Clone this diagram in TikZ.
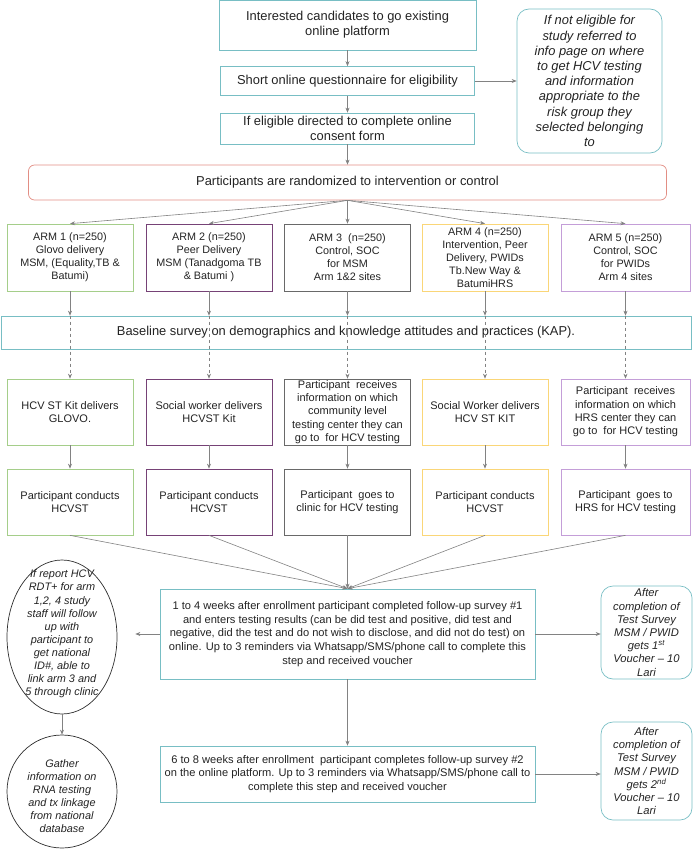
\documentclass[tikz,border=0pt]{standalone}
\usepackage{fontspec}
\setmainfont{Liberation Sans}
\usepackage{xcolor}
\usepackage{tikz}
\usetikzlibrary{arrows.meta, positioning, shapes.geometric}

\definecolor{boxteal}{RGB}{120,190,196}
\definecolor{randsalmon}{RGB}{226,142,132}
\definecolor{armgreen}{RGB}{165,206,138}
\definecolor{armpurple}{RGB}{118,66,118}
\definecolor{armgray}{RGB}{105,105,105}
\definecolor{armyellow}{RGB}{250,214,120}
\definecolor{armlilac}{RGB}{196,158,216}
\definecolor{ovalgray}{RGB}{45,45,45}
\definecolor{arrowgray}{RGB}{130,130,130}
\definecolor{txtdark}{RGB}{35,35,35}

\begin{document}
\begin{tikzpicture}[x=1pt, y=-1pt]
    % Block styles
    \tikzstyle{block} = [rectangle, draw=boxteal, line width=0.7pt, text=txtdark, align=center, inner sep=1pt, font=\fontsize{12.9}{15}\selectfont]
    \tikzstyle{armbox} = [block, minimum width=126pt, minimum height=67pt, font=\fontsize{10.8}{13}\selectfont]
    \tikzstyle{stepbox} = [armbox, minimum height=66pt, font=\fontsize{11}{13.3}\selectfont]
    \tikzstyle{note} = [block, rounded corners=12pt, inner sep=0pt, font=\itshape\fontsize{11.2}{13.2}\selectfont]
    \tikzstyle{oval} = [ellipse, draw=ovalgray, line width=0.7pt, inner sep=0pt]
    \tikzstyle{ovaltext} = [align=center, text=txtdark, inner sep=0pt, font=\itshape\fontsize{10.9}{13.1}\selectfont]
    \tikzstyle{arrow} = [draw=arrowgray, line width=0.6pt, -{Stealth[length=5pt,width=4pt]}]
    \tikzstyle{dasharrow} = [arrow, dashed]

    \useasboundingbox (0,0) rectangle (693,850);

    % Enrollment
    \node[block, minimum width=257pt, minimum height=50pt] (interest) at (347.5,25) {Interested candidates to go existing\\online platform};
    \node[block, minimum width=254pt, minimum height=29pt] (quest) at (347.5,81) {Short online questionnaire for eligibility};
    \node[block, minimum width=254pt, minimum height=31pt] (consent) at (347.5,128.5) {If eligible directed to complete online\\consent form};
    \node[note, minimum width=145pt, minimum height=144pt, font=\itshape\fontsize{12.9}{15.2}\selectfont] (noteligible) at (589.5,81) {If not eligible for\\study referred to\\info page on where\\to get HCV testing\\and information\\appropriate to the\\risk group they\\selected belonging\\to};
    \node[block, draw=randsalmon, rounded corners=6pt, minimum width=638pt, minimum height=35pt] (random) at (347.5,182.5) {Participants are randomized to intervention or control};

    % Arms
    \node[armbox, draw=armgreen] (arm1) at (70,257.5) {ARM 1 (n=250)\\Glovo delivery\\MSM, (Equality,TB \&\\Batumi)};
    \node[armbox, draw=armpurple] (arm2) at (209,257.5) {ARM 2 (n=250)\\Peer Delivery\\MSM (Tanadgoma TB\\\& Batumi )};
    \node[armbox, draw=armgray] (arm3) at (347.5,257.5) {ARM 3\ \ (n=250)\\Control, SOC\\for MSM\\Arm 1\&2 sites};
    \node[armbox, draw=armyellow] (arm4) at (485,257.5) {ARM 4 (n=250)\\Intervention, Peer\\Delivery, PWIDs\\Tb.New Way \&\\BatumiHRS};
    \node[armbox, draw=armlilac, minimum width=129pt] (arm5) at (625.5,257.5) {ARM 5 (n=250)\\Control, SOC\\for PWIDs\\Arm 4 sites};

    \node[block, minimum width=690pt, minimum height=33pt] (baseline) at (346,332.5) {Baseline survey on demographics and knowledge attitudes and practices (KAP).};

    % Delivery of test
    \node[stepbox, draw=armgreen] (deliver1) at (70,412) {HCV ST Kit delivers\\GLOVO.};
    \node[stepbox, draw=armpurple] (deliver2) at (209,412) {Social worker delivers\\HCVST Kit};
    \node[stepbox, draw=armgray] (deliver3) at (347.5,412) {Participant\ \ receives\\information on which\\community level\\testing center they can\\go to\ \ for HCV testing};
    \node[stepbox, draw=armyellow] (deliver4) at (485,412) {Social Worker delivers\\HCV ST KIT};
    \node[stepbox, draw=armlilac, minimum width=129pt] (deliver5) at (625.5,412) {Participant\ \ receives\\information on which\\HRS center they can\\go to\ \ for HCV testing};

    % Testing
    \node[stepbox, draw=armgreen] (test1) at (70,502) {Participant conducts\\HCVST};
    \node[stepbox, draw=armpurple] (test2) at (209,502) {Participant conducts\\HCVST};
    \node[stepbox, draw=armgray] (test3) at (347.5,502) {Participant\ \ goes to\\clinic for HCV testing};
    \node[stepbox, draw=armyellow] (test4) at (485,502) {Participant conducts\\HCVST};
    \node[stepbox, draw=armlilac, minimum width=129pt] (test5) at (625.5,502) {Participant\ \ goes to\\HRS for HCV testing};

    % Follow-up
    \node[block, minimum width=375pt, minimum height=90pt, font=\fontsize{11.1}{13.8}\selectfont] (survey1) at (347.5,634) {1 to 4 weeks after enrollment participant completed follow-up survey \#1\\and enters testing results (can be did test and positive, did test and\\negative, did the test and do not wish to disclose, and did not do test) on\\online. Up to 3 reminders via Whatsapp/SMS/phone call to complete this\\step and received voucher};
    \node[block, minimum width=375pt, minimum height=56pt, font=\fontsize{11.1}{13.8}\selectfont] (survey2) at (347.5,774) {6 to 8 weeks after enrollment\ \ participant completes follow-up survey \#2\\on the online platform. Up to 3 reminders via Whatsapp/SMS/phone call to\\complete this step and received voucher};
    \node[note, minimum width=91pt, minimum height=93pt] (voucher1) at (646.5,632.5) {After\\completion of\\Test Survey\\MSM / PWID\\gets 1\textsuperscript{st}\\Voucher -- 10\\Lari};
    \node[note, minimum width=91pt, minimum height=98pt] (voucher2) at (646.5,771) {After\\completion of\\Test Survey\\MSM / PWID\\gets 2\textsuperscript{nd}\\Voucher -- 10\\Lari};

    % Linkage
    \node[oval, minimum width=110pt, minimum height=154pt] (linkage) at (62,637) {};
    \node[ovaltext] (linkagetext) at (62,634) {If report HCV\\RDT+ for arm\\1,2, 4 study\\staff will follow\\up with\\participant to\\get national\\ID\#, able to\\link arm 3 and\\5 through clinic};
    \node[oval, minimum width=110pt, minimum height=113pt] (database) at (62,791.5) {};
    \node[ovaltext] (databasetext) at (62,796) {Gather\\information on\\RNA testing\\and tx linkage\\from national\\database};

    % Connections
    \draw[arrow] (interest) -- (quest);
    \draw[arrow] (quest) -- (consent);
    \draw[arrow] (consent) -- (random);
    \draw[arrow] (quest) -- (noteligible);
    \draw[arrow] (random.south) -- (arm1.north);
    \draw[arrow] (random.south) -- (arm2.north);
    \draw[arrow] (random.south) -- (arm3.north);
    \draw[arrow] (random.south) -- (arm4.north);
    \draw[arrow] (random.south) -- (arm5.north);

    \coordinate (kap1) at (arm1.south |- baseline.north);
    \coordinate (kap2) at (arm2.south |- baseline.north);
    \coordinate (kap3) at (arm3.south |- baseline.north);
    \coordinate (kap4) at (arm4.south |- baseline.north);
    \coordinate (kap5) at (arm5.south |- baseline.north);
    \draw[arrow] (arm1) -- (kap1);
    \draw[arrow] (arm2) -- (kap2);
    \draw[arrow] (arm3) -- (kap3);
    \draw[arrow] (arm4) -- (kap4);
    \draw[arrow] (arm5) -- (kap5);
    \draw[dasharrow] (kap1) -- (deliver1); % through the survey box
    \draw[dasharrow] (kap2) -- (deliver2);
    \draw[dasharrow] (kap3) -- (deliver3);
    \draw[dasharrow] (kap4) -- (deliver4);
    \draw[dasharrow] (kap5) -- (deliver5);

    \draw[arrow] (deliver1) -- (test1);
    \draw[arrow] (deliver2) -- (test2);
    \draw[arrow] (deliver3) -- (test3);
    \draw[arrow] (deliver4) -- (test4);
    \draw[arrow] (deliver5) -- (test5);
    \draw[arrow] (test1.south) -- (survey1.north);
    \draw[arrow] (test2.south) -- (survey1.north);
    \draw[arrow] (test3.south) -- (survey1.north);
    \draw[arrow] (test4.south) -- (survey1.north);
    \draw[arrow] (test5.south) -- (survey1.north);

    \draw[arrow] (survey1) -- (survey2);
    \draw[arrow] (survey1.east) -- (survey1.east -| voucher1.west);
    \draw[arrow] (survey2.east) -- (survey2.east -| voucher2.west);
    \draw[arrow, shorten >=18pt] (survey1.west) -- (survey1.west -| linkage.east);
    \draw[arrow] (linkage) -- (database);
\end{tikzpicture}
\end{document}
